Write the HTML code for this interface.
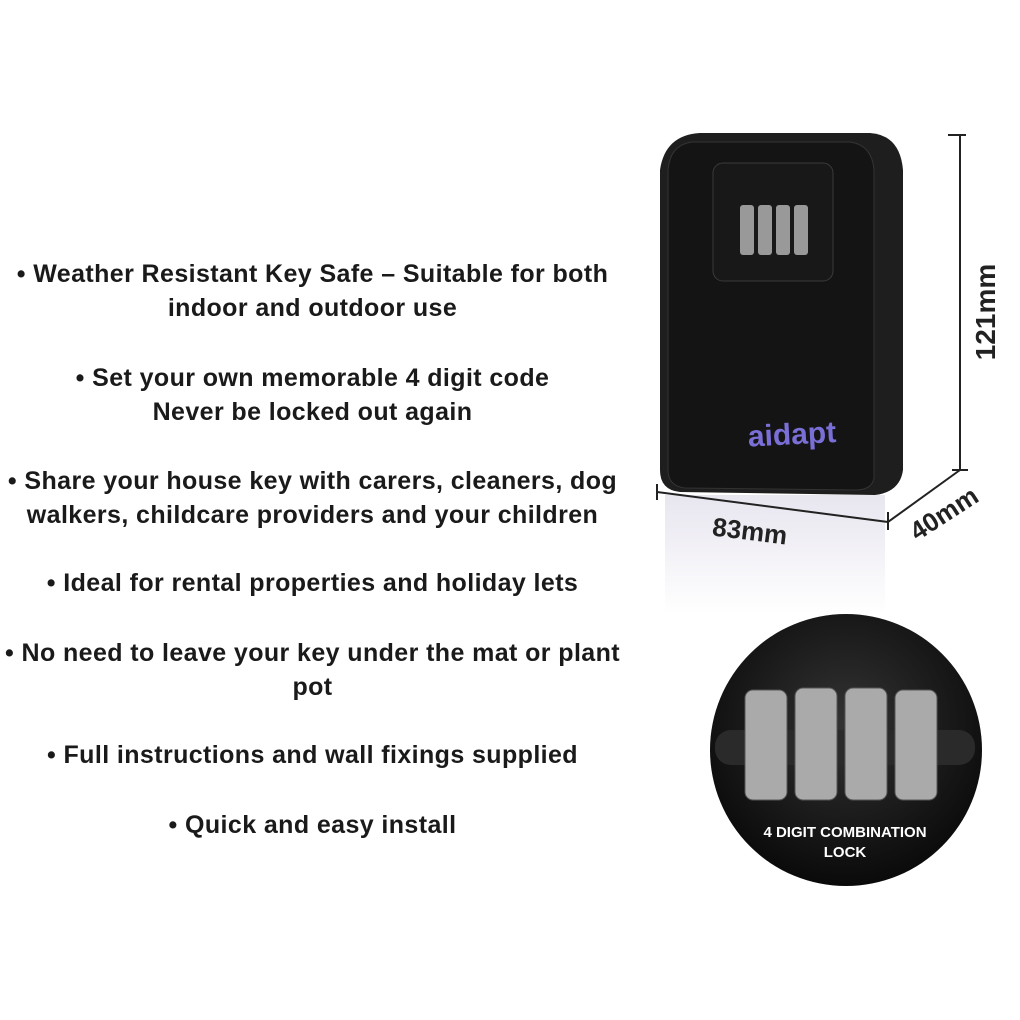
<!DOCTYPE html>
<html><head><meta charset="utf-8"><style>
body{margin:0;width:1020px;height:1020px;background:#fff;position:relative;overflow:hidden;font-family:"Liberation Sans",sans-serif}
.t{position:absolute;left:0;width:625px;text-align:center;font-weight:bold;font-size:25px;letter-spacing:0.4px;color:#1a1a1a;line-height:34px}
</style></head><body>
<div class="t" style="top:257px">• Weather Resistant Key Safe – Suitable for both<br>indoor and outdoor use</div>
<div class="t" style="top:361px">• Set your own memorable 4 digit code<br>Never be locked out again</div>
<div class="t" style="top:464px">• Share your house key with carers, cleaners, dog<br>walkers, childcare providers and your children</div>
<div class="t" style="top:566px">• Ideal for rental properties and holiday lets</div>
<div class="t" style="top:636px">• No need to leave your key under the mat or plant<br>pot</div>
<div class="t" style="top:738px">• Full instructions and wall fixings supplied</div>
<div class="t" style="top:808px">• Quick and easy install</div>
<svg width="1020" height="1020" style="position:absolute;left:0;top:0">
<defs>
<linearGradient id="refl" x1="0" y1="0" x2="0" y2="1"><stop offset="0" stop-color="#d8d4e4"/><stop offset="1" stop-color="#fff"/></linearGradient>
<radialGradient id="cg" cx="0.5" cy="0.4" r="0.6"><stop offset="0" stop-color="#333"/><stop offset="1" stop-color="#0a0a0a"/></radialGradient>
</defs>
<rect x="665" y="495" width="220" height="120" fill="url(#refl)" opacity="0.6"/>
<path d="M700 133 L870 133 Q900 135 903 170 L903 470 Q900 492 875 495 L680 492 Q660 490 660 470 L660 170 Q665 135 700 133Z" fill="#1e1e1e"/>
<path d="M692 142 L850 142 Q872 145 874 170 L874 478 Q872 490 855 490 L685 488 Q668 486 668 470 L668 170 Q670 145 692 142Z" fill="#141414" stroke="#333"/>
<rect x="713" y="163" width="120" height="118" rx="10" fill="#181818" stroke="#3a3a3a"/>
<g fill="#999">
<rect x="740" y="205" width="14" height="50" rx="3"/><rect x="758" y="205" width="14" height="50" rx="3"/>
<rect x="776" y="205" width="14" height="50" rx="3"/><rect x="794" y="205" width="14" height="50" rx="3"/>
</g>
<text x="748" y="446" font-family="Liberation Sans,sans-serif" font-weight="bold" font-size="30" fill="#7a6fd6" transform="rotate(-3 760 440)">aidapt</text>
<g stroke="#222" stroke-width="2" fill="none">
<line x1="960" y1="135" x2="960" y2="470"/><line x1="948" y1="135" x2="966" y2="135"/><line x1="952" y1="470" x2="968" y2="470"/>
<line x1="657" y1="492" x2="888" y2="522"/><line x1="657" y1="484" x2="657" y2="500"/><line x1="888" y1="512" x2="888" y2="530"/>
<line x1="888" y1="522" x2="960" y2="470"/>
</g>
<text x="995" y="312" font-family="Liberation Sans,sans-serif" font-weight="bold" font-size="28" fill="#222" text-anchor="middle" transform="rotate(-90 995 312)">121mm</text>
<text x="750" y="540" font-family="Liberation Sans,sans-serif" font-weight="bold" font-size="26" fill="#222" text-anchor="middle" transform="rotate(7 750 530)">83mm</text>
<text x="945" y="522" font-family="Liberation Sans,sans-serif" font-weight="bold" font-size="26" fill="#222" text-anchor="middle" transform="rotate(-33 945 515)">40mm</text>
<circle cx="846" cy="750" r="136" fill="url(#cg)"/>
<rect x="715" y="730" width="260" height="35" rx="16" fill="#2a2a2a"/>
<g fill="#aaa" stroke="#555">
<rect x="745" y="690" width="42" height="110" rx="8"/><rect x="795" y="688" width="42" height="112" rx="8"/>
<rect x="845" y="688" width="42" height="112" rx="8"/><rect x="895" y="690" width="42" height="110" rx="8"/>
</g>
<text x="845" y="837" font-family="Liberation Sans,sans-serif" font-weight="bold" font-size="15" fill="#fff" text-anchor="middle">4 DIGIT COMBINATION</text>
<text x="845" y="857" font-family="Liberation Sans,sans-serif" font-weight="bold" font-size="15" fill="#fff" text-anchor="middle">LOCK</text>
</svg>
</body></html>
